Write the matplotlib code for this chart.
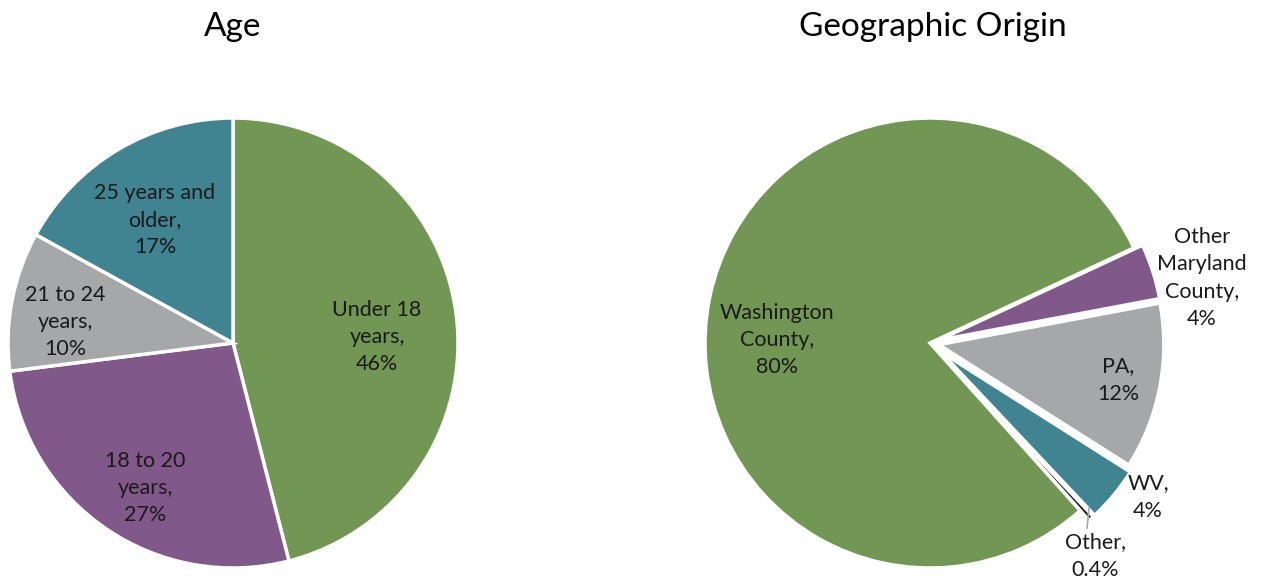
import matplotlib
matplotlib.use('Agg')
import matplotlib.pyplot as plt

plt.rcParams['font.family'] = ['Lato', 'DejaVu Sans']

# Age breakdown
age_labels = ['Under 18\nyears,\n46%', '18 to 20\nyears,\n27%',
              '21 to 24\nyears,\n10%', '25 years and\nolder,\n17%']
age_values = [46, 27, 10, 17]
age_colors = ['#729653', '#80598a', '#a5a7a8', '#408491']

# Geographic origin
geo_labels = ['Other\nMaryland\nCounty,\n4%', 'PA,\n12%', 'WV,\n4%',
              'Other,\n0.4%', 'Washington\nCounty,\n80%']
geo_values = [4, 12, 4, 0.4, 80]
geo_colors = ['#80598a', '#a5a7a8', '#408491', '#1a1a1a', '#729653']
geo_explode = [0.04, 0.04, 0.06, 0.06, 0]

W, H = 1264, 579
R = 225.0  # pie radius in px

fig = plt.figure(figsize=(W / 100, H / 100), dpi=100)


def set_frame(ax, x0, w, cx, cy_top):
    cy = H - cy_top
    ax.set_xlim((x0 - cx) / R, (x0 + w - cx) / R)
    ax.set_ylim(-cy / R, (H - cy) / R)
    ax.set_aspect('equal')
    ax.axis('off')


def px(cx, cy, x, y):
    # pixel position -> data units of a pie axes
    return (x - cx) / R, (cy - y) / R


wp = dict(edgecolor='white', linewidth=2.5)
txt = dict(ha='center', va='center', fontsize=15.5, color='#1a1a1a',
           linespacing=1.45)

# ---- Age ----
ax1 = fig.add_axes([0, 0, 632 / W, 1])
ax1.pie(age_values, colors=age_colors, startangle=90, counterclock=False,
        radius=1, wedgeprops=wp)
set_frame(ax1, 0, 632, 233, 343)
age_pos = [(377, 337), (145, 488), (65, 322), (155, 220)]
for lab, (x, y) in zip(age_labels, age_pos):
    ax1.text(*px(233, 343, x, y), lab, **txt)
fig.text(233 / W, 1 - 27 / H, 'Age', ha='center', va='center', fontsize=24)

# ---- Geographic Origin ----
ax2 = fig.add_axes([632 / W, 0, 632 / W, 1])
ax2.pie(geo_values, colors=geo_colors, startangle=25, counterclock=False,
        radius=1, explode=geo_explode, wedgeprops=wp)
set_frame(ax2, 632, 632, 930, 343)
geo_pos = [(1202, 278), (1118, 380), (1148, 497), (1095, 556), (777, 340)]
for lab, (x, y) in zip(geo_labels, geo_pos):
    ax2.text(*px(930, 343, x, y), lab, **txt)
# leader line for the tiny "Other" slice
lx0, ly0 = px(930, 343, 1089, 508)
lx1, ly1 = px(930, 343, 1087, 528)
ax2.plot([lx0, lx1], [ly0, ly1], color='#a5a7a8', linewidth=1.2)
fig.text(933 / W, 1 - 27 / H, 'Geographic Origin', ha='center', va='center',
         fontsize=24)

fig.savefig('out.png', dpi=100)
